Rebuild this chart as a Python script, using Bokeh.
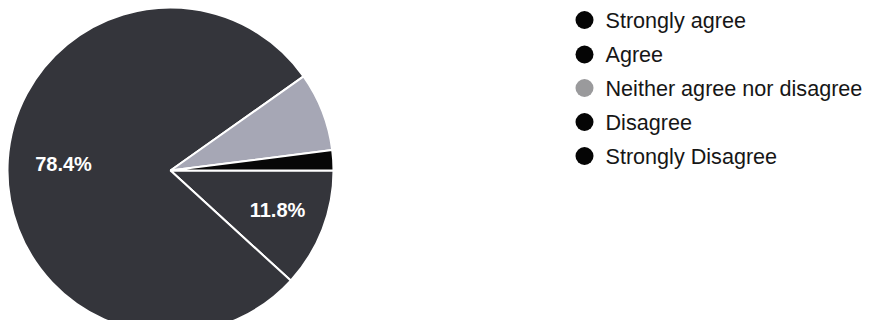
import math
from bokeh.plotting import figure
from bokeh.models import ColumnDataSource, Range1d
from bokeh.core.properties import value
from bokeh.embed import file_html
from bokeh.resources import INLINE

categories = ["Strongly agree", "Agree", "Neither agree nor disagree", "Disagree", "Strongly Disagree"]
values = [11.8, 78.4, 7.8, 2.0, 0.0]
slice_colors = ["#34353b", "#34353b", "#a6a7b5", "#070707", "#070707"]
legend_colors = ["#050505", "#050505", "#9a9a9c", "#050505", "#050505"]
label_texts = ["11.8%", "78.4%"]

W, H = 870, 320
p = figure(width=W, height=H, output_backend="svg", toolbar_location=None,
           x_range=Range1d(0, W), y_range=Range1d(H, 0), min_border=0)
p.axis.visible = False
p.grid.visible = False
p.outline_line_color = None
p.background_fill_color = "white"
p.border_fill_color = "white"

cx, cy, r = 170, 170, 163
total = sum(values)
xs, ys_, starts, ends, cols = [], [], [], [], []
acc = 0.0
for v, c in zip(values, slice_colors):
    a0 = acc / total * 2 * math.pi
    acc += v
    a1 = acc / total * 2 * math.pi
    if v <= 0:
        continue
    xs.append(cx); ys_.append(cy)
    starts.append(-a0); ends.append(-a1); cols.append(c)

src = ColumnDataSource(dict(x=xs, y=ys_, start=starts, end=ends, color=cols))
p.annular_wedge(x="x", y="y", inner_radius=0, outer_radius=r, outer_radius_units="screen",
                inner_radius_units="screen",
                start_angle="start", end_angle="end", direction="clock",
                fill_color="color", line_color="white", line_width=2, source=src)

# percentage labels
p.text(x=[277, 63], y=[209, 163], text=label_texts, text_color="white",
       text_font=value("Liberation Sans"), text_font_style="bold", text_font_size="20px",
       text_align="center", text_baseline="middle")

# legend
ly = [19.5, 54, 87.5, 121.5, 155.5]
p.scatter(x=[584] * len(categories), y=ly, size=18, marker="circle",
          fill_color=legend_colors, line_color=None)
p.text(x=[605] * len(categories), y=ly, text=categories, text_color="#161616",
       text_font=value("Liberation Sans"), text_font_size="21.6px",
       text_align="left", text_baseline="middle")

open("out.html", "w").write(file_html(p, INLINE))
